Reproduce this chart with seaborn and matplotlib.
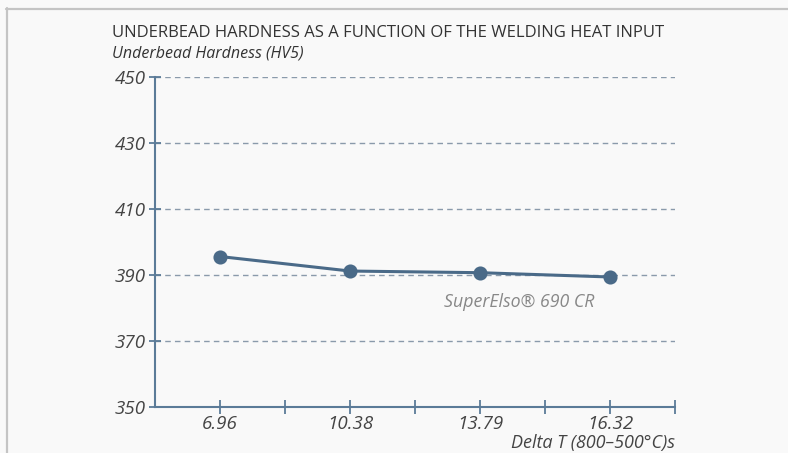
import matplotlib
matplotlib.use("Agg")
import matplotlib.pyplot as plt
from matplotlib.lines import Line2D
import seaborn as sns
import pandas as pd

# Data
categories = ["6.96", "10.38", "13.79", "16.32"]
hardness = [395.6, 391.2, 390.7, 389.4]
series_name = "SuperElso® 690 CR"
y_ticks = [350, 370, 390, 410, 430, 450]

title = "UNDERBEAD HARDNESS AS A FUNCTION OF THE WELDING HEAT INPUT"
y_label = "Underbead Hardness (HV5)"
x_label = "Delta T (800–500°C)s"

sns.set_theme(style="white")
plt.rcParams["font.family"] = ["Open Sans", "DejaVu Sans"]

bg = "#f9f9f9"
axis_col = "#5b7b98"
line_col = "#4a6a88"
grid_col = "#8a9aab"
text_col = "#333333"

df = pd.DataFrame({"delta": categories, "hv": hardness})

fig = plt.figure(figsize=(7.88, 4.53), dpi=100, facecolor=bg)
ax = fig.add_axes([155/788, 1-407/453, 520/788, 330/453])
ax.set_facecolor(bg)

sns.pointplot(data=df, x="delta", y="hv", ax=ax, color=line_col,
              markers="o", markersize=8.5, linewidth=2.2, errorbar=None)

ax.set_xlim(-0.5, 3.5)
ax.set_ylim(350, 450)
ax.set_yticks(y_ticks)
n = len(categories)
tick_pos = [i * 0.5 for i in range(2 * n)]  # band centers and band edges
tick_labels = [categories[int(p)] if p == int(p) else "" for p in tick_pos]
ax.set_xticks(tick_pos)
ax.set_xticklabels(tick_labels)

for t in y_ticks[1:]:
    ax.axhline(t, color=grid_col, lw=1, ls=(0, (4, 3)), zorder=0)

for s in ["top", "right"]:
    ax.spines[s].set_visible(False)
for s in ["left", "bottom"]:
    ax.spines[s].set_color(axis_col)
    ax.spines[s].set_linewidth(1.5)

ax.tick_params(axis="x", bottom=True, direction="inout", length=10, width=1.3,
               color=axis_col, pad=1, labelsize=13.5, labelcolor="#444444")
ax.tick_params(axis="y", left=True, direction="inout", length=9, width=1.3,
               color=axis_col, pad=2, labelsize=13.5, labelcolor="#444444")
for lab in ax.get_xticklabels() + ax.get_yticklabels():
    lab.set_fontstyle("italic")

ax.set_ylabel("")
ax.set_xlabel("")
ax.text(1.0, -(443 - 407) / 330, x_label, transform=ax.transAxes,
        fontsize=13, fontstyle="italic", color="#444444",
        ha="right", va="center")

ax.text(1.72, 381.8, series_name, fontsize=12.8, fontstyle="italic",
        color="#888888", ha="left", va="center")

fig.text(112/788, 1-33/453, title, fontsize=12, color=text_col,
         ha="left", va="center")
fig.text(112/788, 1-53/453, y_label, fontsize=11.5, fontstyle="italic",
         color=text_col, ha="left", va="center")

# frame border
fig.add_artist(Line2D([6.5/788, 6.5/788], [0, 1-8/453], color="#c4c4c4", lw=1.6,
                      transform=fig.transFigure))
fig.add_artist(Line2D([6/788, 1], [1-8.5/453, 1-8.5/453], color="#c4c4c4", lw=1.6,
                      transform=fig.transFigure))

fig.savefig("out.png", dpi=100, facecolor=bg)
